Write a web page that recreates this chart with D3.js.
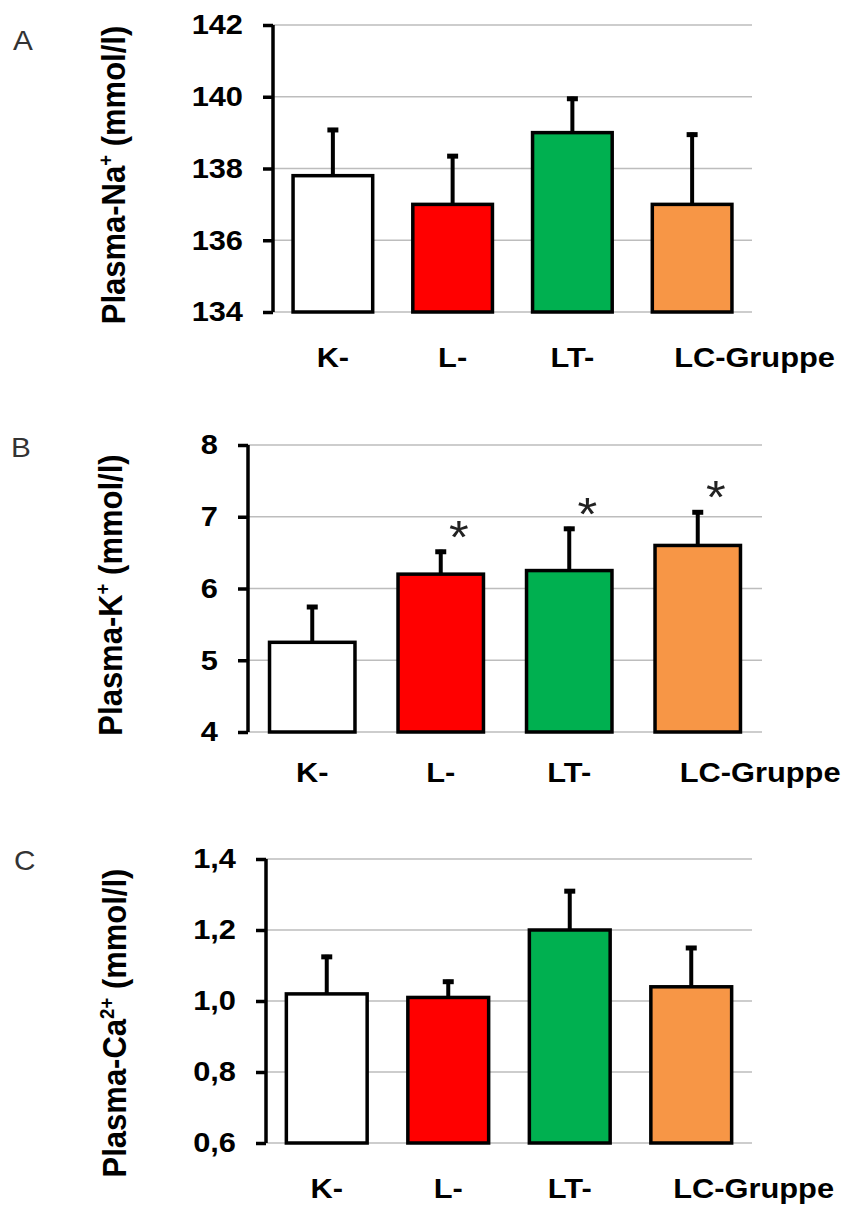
<!DOCTYPE html>
<html>
<head>
<meta charset="utf-8">
<script src="https://cdn.jsdelivr.net/npm/d3@7"></script>
<style>
  html, body { margin: 0; padding: 0; background: #fff; }
  svg { display: block; }
</style>
</head>
<body>
<script>
// Groups shown in every panel
const groups = ["K-", "L-", "LT-", "LC-Gruppe"];

// Plasma sodium (mmol/l): mean and SD per group
const naMean = [137.8, 137.0, 139.0, 137.0];
const naSD   = [1.33, 1.4, 1.0, 2.0];
const naTicks = [134, 136, 138, 140, 142];

// Plasma potassium (mmol/l)
const kMean = [5.25, 6.2, 6.25, 6.6];
const kSD   = [0.52, 0.34, 0.61, 0.49];
const kSig  = [false, true, true, true];
const kTicks = [4, 5, 6, 7, 8];

// Plasma calcium (mmol/l)
const caMean = [1.02, 1.01, 1.2, 1.04];
const caSD   = [0.11, 0.05, 0.115, 0.115];
const caTicks = [0.6, 0.8, 1.0, 1.2, 1.4];

// Styling
const barColors = ["#ffffff", "#ff0000", "#00b050", "#f79646"];
const FONT = "'Liberation Sans', Arial, sans-serif";
const STRETCH = 1.1;

const deLocale = d3.formatLocale({decimal: ",", thousands: ".", grouping: [3], currency: ["", " €"]});

const panels = [
  {letter: "A", mean: naMean, sd: naSD, sig: null, ticks: naTicks, fmt: d3.format("d"),
   titleMain: "Plasma-Na", titleSup: "+",
   x0: 273, x1: 752, yTop: 25, yBot: 312,
   titleX: 125, titleY: 175, letterX: 13, letterY: 50, labelY: 367},
  {letter: "B", mean: kMean, sd: kSD, sig: kSig, ticks: kTicks, fmt: d3.format("d"),
   titleMain: "Plasma-K", titleSup: "+",
   x0: 248, x1: 762, yTop: 445, yBot: 732,
   titleX: 122, titleY: 595, letterX: 11, letterY: 457, labelY: 782},
  {letter: "C", mean: caMean, sd: caSD, sig: null, ticks: caTicks, fmt: deLocale.format(".1f"),
   titleMain: "Plasma-Ca", titleSup: "2+",
   x0: 266, x1: 752, yTop: 859, yBot: 1143,
   titleX: 126, titleY: 1023, letterX: 14, letterY: 870, labelY: 1198}
];

const svg = d3.select("body").append("svg")
  .attr("width", 843)
  .attr("height", 1205)
  .attr("font-family", FONT);

panels.forEach(p => {
  const g = svg.append("g");
  const domain = [p.ticks[0], p.ticks[p.ticks.length - 1]];

  const x = d3.scaleBand()
    .domain(groups)
    .range([p.x0, p.x1])
    .paddingInner(0.335)
    .paddingOuter(0.1675);

  const y = d3.scaleLinear()
    .domain(domain)
    .range([p.yBot, p.yTop]);

  // horizontal gridlines
  g.append("g").selectAll("line")
    .data(p.ticks)
    .join("line")
    .attr("x1", p.x0)
    .attr("x2", p.x1)
    .attr("y1", d => y(d))
    .attr("y2", d => y(d))
    .attr("stroke", "#bdbdbd")
    .attr("stroke-width", 1.5);

  // bars
  const rows = groups.map((name, i) => ({name, mean: p.mean[i], sd: p.sd[i], i}));
  g.append("g").selectAll("rect")
    .data(rows)
    .join("rect")
    .attr("x", d => x(d.name))
    .attr("y", d => y(d.mean))
    .attr("width", x.bandwidth())
    .attr("height", d => y(domain[0]) - y(d.mean))
    .attr("fill", d => barColors[d.i])
    .attr("stroke", "#000")
    .attr("stroke-width", 3.5);

  // upper error bars
  const eb = g.append("g").selectAll("g")
    .data(rows)
    .join("g");
  eb.append("line")
    .attr("x1", d => x(d.name) + x.bandwidth() / 2)
    .attr("x2", d => x(d.name) + x.bandwidth() / 2)
    .attr("y1", d => y(d.mean))
    .attr("y2", d => y(d.mean + d.sd))
    .attr("stroke", "#000")
    .attr("stroke-width", 4);
  eb.append("line")
    .attr("x1", d => x(d.name) + x.bandwidth() / 2 - 5.5)
    .attr("x2", d => x(d.name) + x.bandwidth() / 2 + 5.5)
    .attr("y1", d => y(d.mean + d.sd) + 2)
    .attr("y2", d => y(d.mean + d.sd) + 2)
    .attr("stroke", "#000")
    .attr("stroke-width", 5);

  // significance markers
  if (p.sig) {
    g.append("g").selectAll("text")
      .data(rows.filter(d => p.sig[d.i]))
      .join("text")
      .attr("transform", d => `translate(${x(d.name) + x.bandwidth() / 2 + 18},${y(d.mean + d.sd) + 3}) scale(${STRETCH},1)`)
      .attr("text-anchor", "middle")
      .attr("font-size", 46)
      .attr("fill", "#222")
      .text("*");
  }

  // y axis
  const axis = d3.axisLeft(y)
    .tickValues(p.ticks)
    .tickFormat(p.fmt)
    .tickSizeInner(10)
    .tickSizeOuter(0)
    .tickPadding(20);
  const ag = g.append("g")
    .attr("transform", `translate(${p.x0},0)`)
    .call(axis);
  ag.select(".domain")
    .attr("stroke", "#000")
    .attr("stroke-width", 3.5)
    .attr("d", `M0,${p.yTop}V${p.yBot}`);
  ag.selectAll(".tick line")
    .attr("stroke", "#000")
    .attr("stroke-width", 3.5);
  ag.selectAll(".tick text")
    .attr("x", null)
    .attr("transform", `translate(-30,0) scale(${STRETCH},1)`)
    .attr("font-family", FONT)
    .attr("font-size", 28)
    .attr("font-weight", "bold")
    .attr("fill", "#000");

  // category labels
  g.append("g").selectAll("text")
    .data(groups)
    .join("text")
    .attr("transform", (d, i) => {
      const cx = x(d) + x.bandwidth() / 2;
      const px = i === groups.length - 1 ? cx - 18 : cx;
      return `translate(${px},${p.labelY}) scale(${STRETCH},1)`;
    })
    .attr("text-anchor", (d, i) => i === groups.length - 1 ? "start" : "middle")
    .attr("font-size", 28)
    .attr("font-weight", "bold")
    .text(d => d);

  // y axis title
  const t = g.append("text")
    .attr("transform", `translate(${p.titleX},${p.titleY}) scale(${STRETCH},1) rotate(-90)`)
    .attr("text-anchor", "middle")
    .attr("font-size", 31)
    .attr("font-weight", "bold");
  t.append("tspan").text(p.titleMain);
  t.append("tspan")
    .attr("baseline-shift", "super")
    .attr("font-size", "60%")
    .text(p.titleSup);
  t.append("tspan").text(" (mmol/l)");

  // panel letter
  g.append("text")
    .attr("transform", `translate(${p.letterX},${p.letterY}) scale(${STRETCH},1)`)
    .attr("font-size", 27)
    .attr("fill", "#333")
    .text(p.letter);
});
</script>
</body>
</html>
